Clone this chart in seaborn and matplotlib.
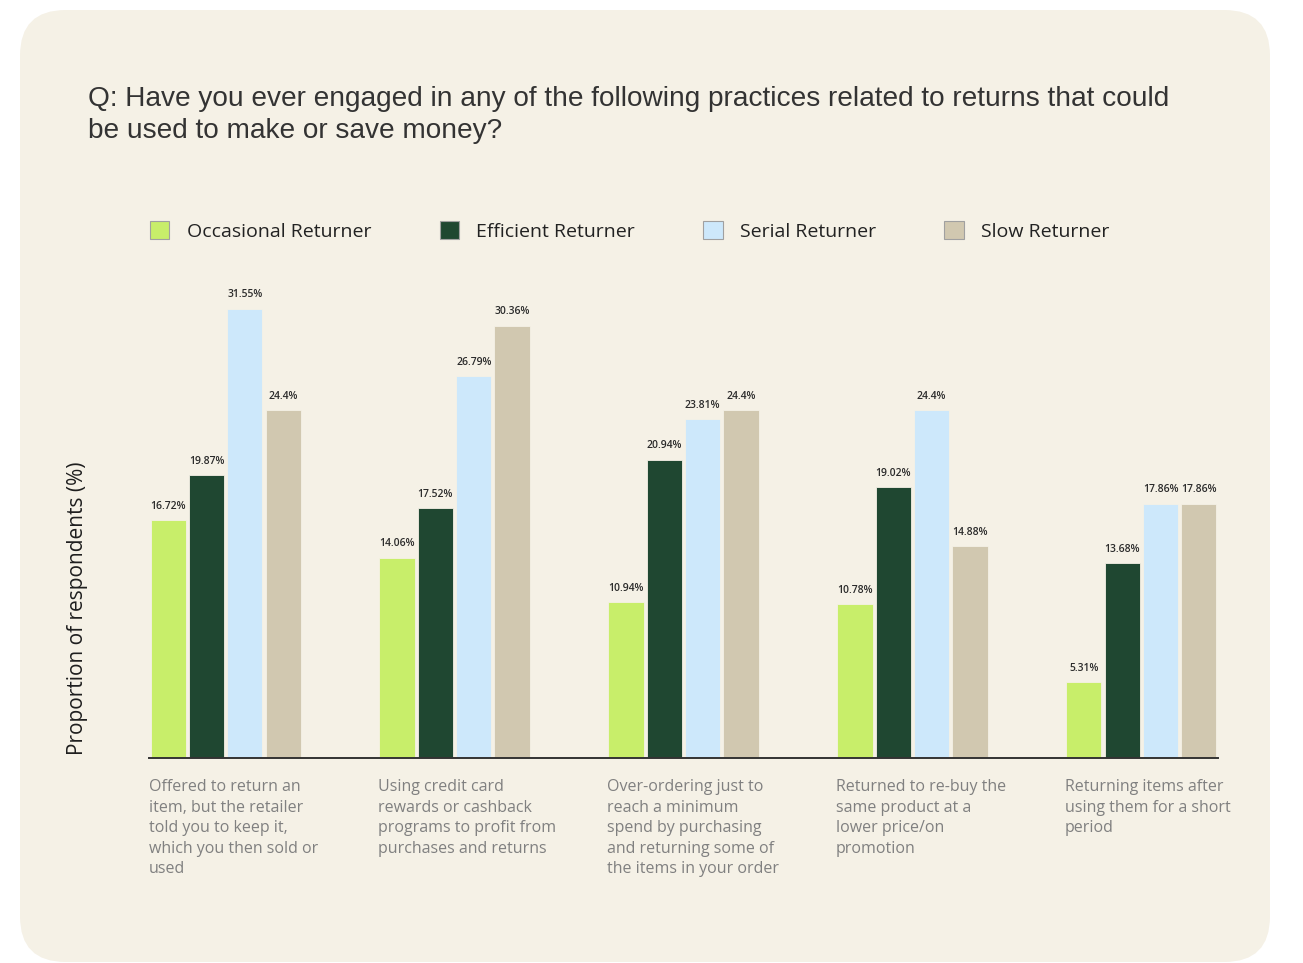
import matplotlib
matplotlib.use("Agg")
import matplotlib.pyplot as plt
from matplotlib.patches import FancyBboxPatch, Patch
import matplotlib.transforms as mtransforms
import seaborn as sns
import pandas as pd

categories = [
    "Offered to return an\nitem, but the retailer\ntold you to keep it,\nwhich you then sold or\nused",
    "Using credit card\nrewards or cashback\nprograms to profit from\npurchases and returns",
    "Over-ordering just to\nreach a minimum\nspend by purchasing\nand returning some of\nthe items in your order",
    "Returned to re-buy the\nsame product at a\nlower price/on\npromotion",
    "Returning items after\nusing them for a short\nperiod",
]
segments = ["Occasional Returner", "Efficient Returner", "Serial Returner", "Slow Returner"]
occasional = [16.72, 14.06, 10.94, 10.78, 5.31]
efficient = [19.87, 17.52, 20.94, 19.02, 13.68]
serial = [31.55, 26.79, 23.81, 24.4, 17.86]
slow = [24.4, 30.36, 24.4, 14.88, 17.86]
colors = ["#C8EE6A", "#1F4731", "#CDE8FB", "#D1C8B0"]

title = "Q: Have you ever engaged in any of the following practices related to returns that could\nbe used to make or save money?"
ylabel = "Proportion of respondents (%)"

rows = []
for seg, vals in zip(segments, [occasional, efficient, serial, slow]):
    for c, v in zip(categories, vals):
        rows.append({"practice": c, "segment": seg, "value": v})
df = pd.DataFrame(rows)

sns.set_theme(style="white")
plt.rcParams["font.family"] = ["Open Sans", "DejaVu Sans"]

W, H = 1303, 963
fig = plt.figure(figsize=(W / 100, H / 100), dpi=100)
fig.patch.set_facecolor("white")

card = FancyBboxPatch((20 / W, 1 / H), 1250 / W, 952 / H,
                      boxstyle="round,pad=0,rounding_size=0.035",
                      transform=fig.transFigure, facecolor="#F5F1E6",
                      edgecolor="none", zorder=-10, mutation_aspect=W / H)
fig.patches.append(card)

bw = 0.67
ax = fig.add_axes([149 / W, (H - 758) / H, (1218 - 149) / W, 470 / H])
ax.set_zorder(5)
ax.set_facecolor("none")
sns.barplot(data=df, x="practice", y="value", hue="segment", hue_order=segments,
            palette=colors, width=bw, gap=0.08, saturation=1, legend=False,
            edgecolor="#F5F1E6", linewidth=0.6, ax=ax)
ax.set_xlim(-bw / 2, len(categories) - 1 + bw / 2)
ax.set_ylim(0, 33)

for cont in ax.containers:
    vals = [b.get_height() for b in cont]
    ax.bar_label(cont, labels=[f"{v:g}%" for v in vals], padding=6,
                 fontsize=7.5, color="#2b2b2b", fontweight="semibold", clip_on=False)

for s in ["top", "right", "left"]:
    ax.spines[s].set_visible(False)
ax.spines["bottom"].set_color("#333333")
ax.spines["bottom"].set_linewidth(1.4)
ax.set_xticks([])
ax.set_yticks([])
ax.set_xlabel("")
ax.set_ylabel("")

trans = mtransforms.blended_transform_factory(ax.transData, ax.transAxes)
for i, c in enumerate(categories):
    ax.text(i - bw / 2, -0.045, c, transform=trans, ha="left", va="top",
            fontsize=11.5, color="#808080", linespacing=1.38)

fig.text(78 / W, (H - 608) / H, ylabel, rotation=90, ha="center", va="center",
         fontsize=15, color="#1e1e1e")

fig.text(88 / W, (H - 86) / H, title, ha="left", va="top", fontsize=20.2,
         color="#333333", family=["Liberation Sans", "DejaVu Sans"], linespacing=1.3)

handles = [Patch(facecolor=col, edgecolor="#a0a0a0", linewidth=0.8, label=s)
           for col, s in zip(colors, segments)]
fig.legend(handles=handles, loc="center left", bbox_to_anchor=(150 / W, (H - 231) / H),
           ncol=4, frameon=False, fontsize=14, handlelength=1.0, handleheight=1.0,
           handletextpad=0.9, columnspacing=3.5, borderpad=0, borderaxespad=0,
           labelcolor="#222222")

fig.savefig("out.png", dpi=100, facecolor="white")
